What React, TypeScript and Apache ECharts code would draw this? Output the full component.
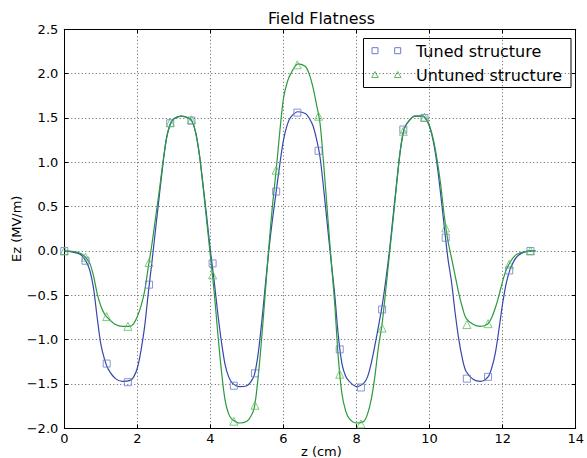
import React, { useEffect, useRef } from "react";
import * as echarts from "echarts";

// Smooth field curves (z in cm, Ez in MV/m)
const curveZ = [
  0.0, 0.2, 0.4, 0.5, 0.6, 0.7, 0.8, 0.9, 1.0, 1.1, 1.2, 1.4, 1.6, 1.8, 1.9, 2.0, 2.1, 2.2, 2.3, 2.4,
  2.5, 2.6, 2.7, 2.8, 2.9, 3.0, 3.2, 3.4, 3.5, 3.6, 3.7, 3.8, 3.9, 4.0, 4.1, 4.2, 4.3, 4.4, 4.5, 4.6,
  4.8, 5.0, 5.1, 5.2, 5.3, 5.4, 5.5, 5.6, 5.7, 5.8, 5.9, 6.0, 6.1, 6.2, 6.4, 6.6, 6.7, 6.8, 6.9, 7.0,
  7.1, 7.2, 7.3, 7.4, 7.5, 7.6, 7.7, 7.8, 8.0, 8.2, 8.3, 8.4, 8.5, 8.6, 8.7, 8.8, 8.9, 9.0, 9.1, 9.2,
  9.3, 9.4, 9.6, 9.8, 9.9, 10.0, 10.1, 10.2, 10.3, 10.4, 10.5, 10.6, 10.7, 10.8, 10.9, 11.0, 11.2, 11.4, 11.6, 11.7,
  11.8, 11.9, 12.0, 12.1, 12.2, 12.3, 12.4, 12.6, 12.8, 12.9,
];
const tunedCurve = [
  0, -0.01, -0.03, -0.06, -0.12, -0.22, -0.42, -0.75, -1.05, -1.22, -1.33, -1.44, -1.47, -1.46, -1.42, -1.32, -1.12, -0.85, -0.47, -0.12,
  0.25, 0.62, 0.98, 1.28, 1.43, 1.49, 1.52, 1.5, 1.46, 1.33, 1.08, 0.74, 0.38, 0.0, -0.33, -0.7, -1.02, -1.28, -1.42, -1.49,
  -1.53, -1.52, -1.48, -1.4, -1.18, -0.82, -0.4, 0.01, 0.36, 0.67, 0.98, 1.25, 1.42, 1.51, 1.57, 1.55, 1.5, 1.42, 1.27, 1.06,
  0.7, 0.3, -0.1, -0.48, -0.95, -1.27, -1.41, -1.47, -1.53, -1.49, -1.42, -1.27, -1.07, -0.85, -0.62, -0.33, 0.0, 0.39, 0.78, 1.14,
  1.37, 1.45, 1.52, 1.52, 1.49, 1.4, 1.24, 0.99, 0.65, 0.28, -0.08, -0.35, -0.7, -1.0, -1.22, -1.36, -1.45, -1.47, -1.42, -1.32,
  -1.15, -0.88, -0.59, -0.36, -0.21, -0.12, -0.06, -0.01, 0, 0,
];
const untunedCurve = [
  0, -0.005, -0.02, -0.04, -0.08, -0.14, -0.28, -0.48, -0.62, -0.71, -0.76, -0.83, -0.85, -0.85, -0.82, -0.74, -0.62, -0.45, -0.18, 0.08,
  0.38, 0.68, 1.0, 1.27, 1.43, 1.49, 1.52, 1.5, 1.46, 1.33, 1.08, 0.72, 0.33, -0.06, -0.45, -0.92, -1.35, -1.68, -1.84, -1.9,
  -1.94, -1.92, -1.87, -1.77, -1.45, -1.0, -0.48, 0.05, 0.52, 0.91, 1.35, 1.72, 1.9, 2.0, 2.11, 2.08, 2.0, 1.86, 1.66, 1.44,
  0.98, 0.45, -0.08, -0.58, -1.2, -1.61, -1.8, -1.89, -1.94, -1.92, -1.84, -1.68, -1.42, -1.08, -0.82, -0.44, -0.04, 0.35, 0.76, 1.14,
  1.37, 1.45, 1.52, 1.52, 1.49, 1.41, 1.26, 1.04, 0.76, 0.4, 0.12, -0.08, -0.28, -0.48, -0.64, -0.76, -0.83, -0.85, -0.82, -0.75,
  -0.64, -0.5, -0.34, -0.21, -0.13, -0.07, -0.035, -0.01, 0, 0,
];

// Sampled points (markers)
const markerZ = [
  0, 0.58, 1.16, 1.74, 2.32, 2.9, 3.48, 4.06, 4.64, 5.22, 5.8, 6.38, 6.96, 7.54, 8.12, 8.7, 9.28, 9.86,
  10.44, 11.02, 11.6, 12.18, 12.76,
];
const tunedMarkers = [
  0.0, -0.11, -1.27, -1.48, -0.38, 1.44, 1.47, -0.14, -1.52, -1.38, 0.67, 1.56, 1.13, -1.11, -1.54, -0.66, 1.37, 1.5,
  0.15, -1.44, -1.42, -0.22, 0.0,
];
const untunedMarkers = [
  0.0, -0.07, -0.74, -0.85, -0.13, 1.45, 1.48, -0.27, -1.92, -1.74, 0.91, 2.1, 1.52, -1.39, -1.95, -0.87, 1.35, 1.51,
  0.26, -0.83, -0.82, -0.15, 0.0,
];

const xTicks = [0, 2, 4, 6, 8, 10, 12, 14];
const yTicks = [-2.0, -1.5, -1.0, -0.5, 0.0, 0.5, 1.0, 1.5, 2.0, 2.5];

const seriesNames = ["Tuned structure", "Untuned structure"];
const titleText = "Field Flatness";
const xName = "z (cm)";
const yName = "Ez (MV/m)";

const FONT = "DejaVu Sans";
const BLUE_LINE = "#3647ab";
const BLUE_MARK = "#6b7bc8";
const GREEN_LINE = "#2a9a3c";
const GREEN_MARK = "#5fbd62";

export default function App() {
  const ref = useRef<HTMLDivElement>(null);
  useEffect(() => {
    if (!ref.current) return;
    const chart = echarts.init(ref.current, null, { renderer: "svg" });
    const pair = (xs: number[], ys: number[]) => xs.map((x, i) => [x, ys[i]]);
    const fmtY = (v: number) => (v < 0 ? "\u2212" : "") + Math.abs(v).toFixed(1);
    const gridLeft = 64.3;
    const gridRight = 578.5;
    const gridTop = 29.3;
    const gridBottom = 428.3;

    const baseAxis = {
      type: "value" as const,
      axisLine: { show: true, onZero: false, lineStyle: { color: "#000", width: 1 } },
      axisTick: { show: true, inside: true, length: 4, lineStyle: { color: "#000", width: 1 } },
    };

    chart.setOption({
      animation: false,
      backgroundColor: "#fff",
      grid: {
        left: gridLeft,
        right: 587 - gridRight,
        top: gridTop,
        bottom: 458 - gridBottom,
        containLabel: false,
      },
      xAxis: [
        {
          ...baseAxis,
          position: "bottom",
          min: xTicks[0],
          max: xTicks[xTicks.length - 1],
          interval: 2,
          axisLabel: { color: "#000", fontSize: 13, fontFamily: FONT, margin: 4 },
          splitLine: { show: true, lineStyle: { color: "#333", width: 0.8, type: [1, 2.5] } },
        },
        {
          ...baseAxis,
          position: "top",
          min: xTicks[0],
          max: xTicks[xTicks.length - 1],
          interval: 2,
          axisLabel: { show: false },
          splitLine: { show: false },
        },
      ],
      yAxis: [
        {
          ...baseAxis,
          position: "left",
          min: yTicks[0],
          max: yTicks[yTicks.length - 1],
          interval: 0.5,
          axisLabel: { color: "#000", fontSize: 13, fontFamily: FONT, margin: 6, formatter: fmtY },
          splitLine: { show: true, lineStyle: { color: "#333", width: 0.8, type: [1, 2.5] } },
        },
        {
          ...baseAxis,
          position: "right",
          min: yTicks[0],
          max: yTicks[yTicks.length - 1],
          interval: 0.5,
          axisLabel: { show: false },
          splitLine: { show: false },
        },
      ],
      series: [
        {
          name: seriesNames[0] + " curve",
          type: "line",
          data: pair(curveZ, tunedCurve),
          showSymbol: false,
          smooth: 0.3,
          lineStyle: { color: BLUE_LINE, width: 1.2 },
          z: 3,
        },
        {
          name: seriesNames[1] + " curve",
          type: "line",
          data: pair(curveZ, untunedCurve),
          showSymbol: false,
          smooth: 0.3,
          lineStyle: { color: GREEN_LINE, width: 1.2 },
          z: 3,
        },
        {
          name: seriesNames[0],
          type: "scatter",
          data: pair(markerZ, tunedMarkers),
          symbol: "rect",
          symbolSize: 7,
          itemStyle: { color: "rgba(0,0,0,0)", borderColor: BLUE_MARK, borderWidth: 1 },
          z: 4,
        },
        {
          name: seriesNames[1],
          type: "scatter",
          data: pair(markerZ, untunedMarkers),
          symbol: "triangle",
          symbolSize: 8,
          itemStyle: { color: "rgba(0,0,0,0)", borderColor: GREEN_MARK, borderWidth: 1 },
          z: 4,
        },
      ],
      graphic: [
        {
          type: "text",
          x: (gridLeft + gridRight) / 2,
          y: 18,
          style: {
            text: titleText,
            font: `15.8px '${FONT}'`,
            fill: "#000",
            textAlign: "center",
            textVerticalAlign: "middle",
          },
        },
        {
          type: "text",
          x: (gridLeft + gridRight) / 2,
          y: 451,
          style: {
            text: xName,
            font: `13px '${FONT}'`,
            fill: "#000",
            textAlign: "center",
            textVerticalAlign: "middle",
          },
        },
        {
          type: "text",
          x: 16,
          y: (gridTop + gridBottom) / 2,
          rotation: Math.PI / 2,
          style: {
            text: yName,
            font: `13px '${FONT}'`,
            fill: "#000",
            textAlign: "center",
            textVerticalAlign: "middle",
          },
        },
        {
          type: "group",
          z: 10,
          children: [
            {
              type: "rect",
              shape: { x: 363.5, y: 38.5, width: 207.5, height: 49 },
              style: { fill: "#fff", stroke: "#000", lineWidth: 1 },
            },
            {
              type: "rect",
              shape: { x: 372, y: 47.7, width: 6, height: 6 },
              style: { fill: "none", stroke: BLUE_MARK, lineWidth: 1 },
            },
            {
              type: "rect",
              shape: { x: 394.7, y: 47.7, width: 6, height: 6 },
              style: { fill: "none", stroke: BLUE_MARK, lineWidth: 1 },
            },
            {
              type: "polygon",
              shape: { points: [[375, 71.5], [378.3, 77.5], [371.7, 77.5]] },
              style: { fill: "none", stroke: GREEN_MARK, lineWidth: 1 },
            },
            {
              type: "polygon",
              shape: { points: [[397.7, 71.5], [401, 77.5], [394.4, 77.5]] },
              style: { fill: "none", stroke: GREEN_MARK, lineWidth: 1 },
            },
            {
              type: "text",
              x: 416,
              y: 51,
              style: {
                text: seriesNames[0],
                font: `16px '${FONT}'`,
                fill: "#000",
                textAlign: "left",
                textVerticalAlign: "middle",
              },
            },
            {
              type: "text",
              x: 416,
              y: 75,
              style: {
                text: seriesNames[1],
                font: `16px '${FONT}'`,
                fill: "#000",
                textAlign: "left",
                textVerticalAlign: "middle",
              },
            },
          ],
        },
      ],
    });
    return () => chart.dispose();
  }, []);
  return (
    <div
      ref={ref}
      style={{ position: "fixed", left: 0, top: 0, width: 587, height: 458, background: "#fff" }}
    />
  );
}
